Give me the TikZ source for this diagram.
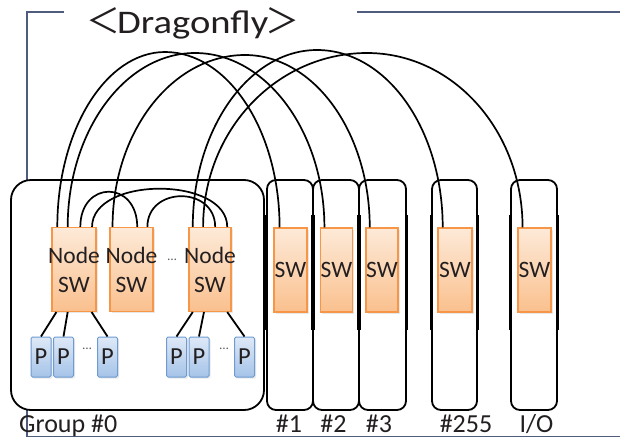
\documentclass[tikz,border=0pt]{standalone}
\usepackage{fontspec}
\setmainfont{Carlito}
\newfontfamily\cjkfont{Noto Sans CJK JP}
\usepackage{graphicx}
\usetikzlibrary{calc,shadows}
\definecolor{swborder}{RGB}{247,150,70}
\definecolor{swtop}{RGB}{253,234,216}
\definecolor{swbot}{RGB}{250,192,142}
\definecolor{pborder}{RGB}{110,155,210}
\definecolor{ptop}{RGB}{222,233,247}
\definecolor{pbot}{RGB}{165,195,232}
\definecolor{framecol}{RGB}{80,92,125}
\definecolor{textcol}{RGB}{35,31,32}
\begin{document}
\begin{tikzpicture}[x=1pt,y=-1pt,
  frame/.style={draw=framecol, line width=1.5pt},
  grp/.style={draw=black, line width=1.8pt, fill=white, rounded corners=20pt, inner sep=0},
  bx/.style={draw=black, line width=1.8pt, fill=white, rounded corners=9pt, inner sep=0, minimum height=230pt},
  thickseg/.style={draw=black, line width=2.8pt},
  swbox/.style={draw=swborder, line width=1.1pt, top color=swtop, bottom color=swbot, inner sep=0,
     minimum height=84pt, drop shadow={opacity=0.18, shadow xshift=1.5pt, shadow yshift=-1.5pt},
     font=\fontsize{23.5}{29}\selectfont, text=textcol, align=center},
  pbox/.style={draw=pborder, line width=1pt, top color=ptop, bottom color=pbot, inner sep=0,
     minimum width=20pt, minimum height=40pt, rounded corners=1.5pt,
     drop shadow={opacity=0.18, shadow xshift=1.5pt, shadow yshift=-1.5pt},
     font=\fontsize{24.5}{29}\selectfont, text=textcol},
  conn/.style={draw=black, line width=1.8pt},
  link/.style={draw=black, line width=1.7pt},
  lbl/.style={font=\fontsize{26}{30}\selectfont, text=textcol, inner sep=0},
  dots/.style={font=\fontsize{13}{13}\selectfont, text=black!65, inner sep=0}
]
\useasboundingbox (0,0) rectangle (620,439);

% frame
\draw[frame] (64,12) -- (27,12) -- (27,436.5) -- (620,436.5);
\draw[frame] (357,12) -- (620,12);
\node[anchor=base west, inner sep=0, text=textcol] (title) at (86,33)
  {{\cjkfont\fontsize{34}{34}\selectfont ＜}\hspace{-3pt}{\fontsize{33}{36}\selectfont\scalebox{1.17}[1]{Dragonfly}}\hspace{-3pt}{\cjkfont\fontsize{34}{34}\selectfont ＞}};

% group boxes
\node[grp, minimum width=253pt, minimum height=230pt] (g0) at (137.5,295) {};
\node[bx, minimum width=46pt] (b1) at (290,295) {};
\node[bx, minimum width=46pt] (b2) at (336,295) {};
\node[bx, minimum width=47pt] (b3) at (382.5,295) {};
\node[bx, minimum width=45pt] (b255) at (454.5,295) {};
\node[bx, minimum width=46pt] (bio) at (534,295) {};
\foreach \b in {b1,b2,b3,b255,bio}{
  \draw[thickseg] ([yshift=80pt]\b.west) -- ([yshift=-35pt]\b.west);
  \draw[thickseg] ([yshift=80pt]\b.east) -- ([yshift=-35pt]\b.east);
}

% switches
\node[swbox, minimum width=44pt] (sw1) at (74,269.5) {\makebox[0pt]{Node}\\\makebox[0pt]{SW}};
\node[swbox, minimum width=43pt] (sw2) at (131.5,269.5) {\makebox[0pt]{Node}\\\makebox[0pt]{SW}};
\node[swbox, minimum width=42pt] (sw3) at (210,269.5) {\makebox[0pt]{Node}\\\makebox[0pt]{SW}};
\node[swbox, minimum width=33pt] (s1) at (290.5,270) {SW};
\node[swbox, minimum width=31pt] (s2) at (336.5,270) {SW};
\node[swbox, minimum width=32pt] (s3) at (382,270) {SW};
\node[swbox, minimum width=34pt] (s255) at (455,270) {SW};
\node[swbox, minimum width=33pt] (sio) at (534.5,270) {SW};
\node[dots] (d1) at (172,260) {…};

% processors
\node[pbox] (p1) at (41,357) {P};
\node[pbox] (p2) at (63.5,357) {P};
\node[pbox] (p3) at (107.5,357) {P};
\node[pbox] (p4) at (176.5,357) {P};
\node[pbox] (p5) at (199,357) {P};
\node[pbox] (p6) at (244.5,357) {P};
\node[dots] (d2) at (87,349) {…};
\node[dots] (d3) at (224,349) {…};

% switch to processor links
\draw[conn] ($(sw1.south west)!0.11!(sw1.south east)$) -- (p1.north);
\draw[conn] ($(sw1.south west)!0.36!(sw1.south east)$) -- (p2.north);
\draw[conn] ($(sw1.south west)!0.89!(sw1.south east)$) -- (p3.north);
\draw[conn] ($(sw3.south west)!0.10!(sw3.south east)$) -- (p4.north);
\draw[conn] ($(sw3.south west)!0.36!(sw3.south east)$) -- (p5.north);
\draw[conn] ($(sw3.south west)!0.90!(sw3.south east)$) -- (p6.north);

% arc end points
\coordinate (t1a) at ($(sw1.north west)!0.13!(sw1.north east)$);
\coordinate (t1b) at ($(sw1.north west)!0.36!(sw1.north east)$);
\coordinate (t1c) at ($(sw1.north west)!0.64!(sw1.north east)$);
\coordinate (t1d) at ($(sw1.north west)!0.90!(sw1.north east)$);
\coordinate (t2a) at ($(sw2.north west)!0.07!(sw2.north east)$);
\coordinate (t2b) at ($(sw2.north west)!0.63!(sw2.north east)$);
\coordinate (t2c) at ($(sw2.north west)!0.86!(sw2.north east)$);
\coordinate (t3a) at ($(sw3.north west)!0.10!(sw3.north east)$);
\coordinate (t3b) at ($(sw3.north west)!0.34!(sw3.north east)$);
\coordinate (t3c) at ($(sw3.north west)!0.62!(sw3.north east)$);
\coordinate (t3d) at ($(sw3.north west)!0.90!(sw3.north east)$);
\coordinate (e1) at ($(s1.north west)!0.18!(s1.north east)$);
\coordinate (e2) at ($(s2.north west)!0.13!(s2.north east)$);
\coordinate (e3) at ($(s3.north west)!0.13!(s3.north east)$);
\coordinate (e255) at ($(s255.north west)!0.15!(s255.north east)$);
\coordinate (eio) at ($(sio.north west)!0.15!(sio.north east)$);

% intra-group links
\draw[link] (t1c) .. controls +(0,-47) and +(0,-47) .. (t2b);
\draw[link] (t1d) .. controls +(0,-51) and +(0,-51) .. (t3d);
\draw[link] (t2c) .. controls +(0,-41) and +(0,-41) .. (t3c);

% global links
\draw[link] (t1a) .. controls +(0,-97) and +(-59,0) .. (165,52) .. controls +(63,0) and +(0,-97) .. (e1);
\draw[link] (t1b) .. controls +(0,-96) and +(-70,0) .. (195,53) .. controls +(71,0) and +(0,-96) .. (e2);
\draw[link] (t2a) .. controls +(0,-95) and +(-73,0) .. (245,55) .. controls +(69,0) and +(0,-95) .. (e3);
\draw[link] (t3a) .. controls +(0,-98) and +(-68,0) .. (317,50) .. controls +(70,0) and +(0,-98) .. (e255);
\draw[link] (t3b) .. controls +(0,-97) and +(-90,0) .. (367,53) .. controls +(86,0) and +(0,-97) .. (eio);

% labels
\node[lbl, anchor=base west] (lg0) at (19,432) {Group \#0};
\node[lbl, anchor=base] (l1) at (289,432) {\#1};
\node[lbl, anchor=base] (l2) at (333.5,432) {\#2};
\node[lbl, anchor=base] (l3) at (379,432) {\#3};
\node[lbl, anchor=base] (l255) at (466,432) {\#255};
\node[lbl, anchor=base] (lio) at (536.5,432) {I/O};
\end{tikzpicture}
\end{document}
